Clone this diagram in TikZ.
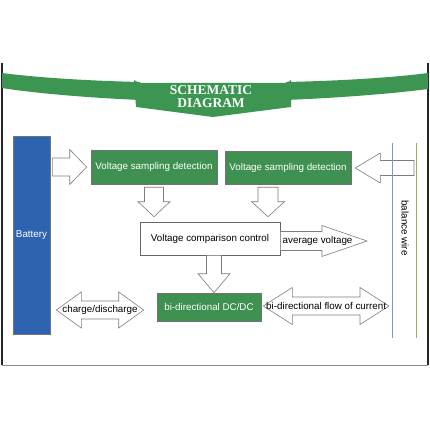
\documentclass[tikz,border=0pt]{standalone}
\usepackage{fontspec}
\setsansfont{Liberation Sans}
\newfontfamily\bannerfont{Liberation Serif}
\usetikzlibrary{calc, positioning}
\definecolor{boxgreen}{RGB}{62,145,80}
\definecolor{bannergreen}{RGB}{60,150,82}
\definecolor{batblue}{RGB}{46,99,176}
\definecolor{wireblue}{RGB}{110,155,210}
\definecolor{wiregreen}{RGB}{150,180,95}
\definecolor{edgegray}{RGB}{125,125,125}

% hollow block arrow: tail, tip, shaft half width, head half width, head length
\newcommand{\blockarrow}[5]{%
  \coordinate (hb) at ($(#2)!#5!(#1)$);
  \draw[hollow] ($(#1)!#3!90:(#2)$) -- ($(hb)!#3!-90:(#1)$) -- ($(hb)!#4!-90:(#1)$) -- (#2)
    -- ($(hb)!#4!90:(#1)$) -- ($(hb)!#3!90:(#1)$) -- ($(#1)!#3!-90:(#2)$) -- cycle;}
% hollow double arrow: tip, tip, shaft half width, head half width, head length
\newcommand{\dblarrow}[5]{%
  \coordinate (ha) at ($(#1)!#5!(#2)$);
  \coordinate (hb) at ($(#2)!#5!(#1)$);
  \draw[hollow] (#1) -- ($(ha)!#4!90:(#2)$) -- ($(ha)!#3!90:(#2)$) -- ($(hb)!#3!-90:(#1)$)
    -- ($(hb)!#4!-90:(#1)$) -- (#2) -- ($(hb)!#4!90:(#1)$) -- ($(hb)!#3!90:(#1)$)
    -- ($(ha)!#3!-90:(#2)$) -- ($(ha)!#4!-90:(#2)$) -- cycle;}

\begin{document}
\begin{tikzpicture}[x=1pt, y=-1pt,
        txt/.style={font=\sffamily\fontsize{9.8}{11}\selectfont},
        gbox/.style={txt, rectangle, draw=black!55, fill=boxgreen, text=white, inner sep=0pt, line width=0.6pt},
        wbox/.style={txt, rectangle, draw=black!60, fill=white, inner sep=0pt, line width=0.6pt},
        lbl/.style={txt, inner sep=0pt},
        hollow/.style={draw=edgegray, fill=white, line width=0.6pt, line join=miter}
    ]
        \useasboundingbox (0,0) rectangle (430,430);
        \fill[white] (0,0) rectangle (430,430);

        % frame
        \draw[black!85, line width=2.5pt] (2,63) -- (2,365);
        \draw[black!85, line width=2pt] (428,63) -- (428,365);
        \draw[black!45, line width=0.6pt] (2,365) -- (428,365);

        % banner
        \fill[bannergreen] (2,73) .. controls (40,78) and (95,81) .. (140,82) -- (140,100)
            .. controls (95,98) and (40,94) .. (2,88) -- cycle;
        \fill[bannergreen] (428,73) .. controls (390,78) and (335,81) .. (286,82) -- (286,100)
            .. controls (335,98) and (390,94) .. (428,89) -- cycle;
        \fill[bannergreen] (134,80) -- (139,83) -- (287,83) -- (291,80) -- (291,107)
            -- (213,117) -- (136,107) -- cycle;
        \node[text=white, align=center, inner sep=0pt, font=\bannerfont\bfseries\fontsize{13.5}{13}\selectfont]
            (title) at (211,97) {SCHEMATIC\\DIAGRAM};

        % blocks
        \node[gbox, fill=batblue, minimum width=37pt, minimum height=198pt] (bat) at (31.5,235) {Battery};
        \node[gbox, minimum width=126pt, minimum height=34pt] (vs1) at (154,167) {Voltage sampling detection};
        \node[gbox, minimum width=126pt, minimum height=33pt] (vs2) at (288,167.5) {Voltage sampling detection};
        \node[wbox, minimum width=140pt, minimum height=33pt] (comp) at (210,238.5) {Voltage comparison control};
        \node[gbox, minimum width=104pt, minimum height=28pt] (dcdc) at (209,307) {bi-directional DC/DC};

        % arrow ends
        \coordinate (a1s) at ($(bat.east |- vs1.west)+(2,0)$);
        \coordinate (a1e) at ($(vs1.west)+(-4,0)$);
        \coordinate (a2s) at (414,168);
        \coordinate (a2e) at ($(vs2.east)+(4,0.5)$);
        \coordinate (a3s) at ($(vs1.south)+(0,3)$);
        \coordinate (a3e) at ($(vs1.south |- comp.north)+(0,-5)$);
        \coordinate (a4s) at ($(vs2.south)+(-20,3)$);
        \coordinate (a4e) at ($(vs2.south |- comp.north)+(-20,-5)$);
        \coordinate (a5s) at ($(comp.south)+(4,0)$);
        \coordinate (a5e) at (a5s |- dcdc.north);
        \coordinate (a6s) at ($(comp.east)+(0,2.5)$);
        \coordinate (a6e) at (367,241);
        \coordinate (a7s) at ($(bat.east |- dcdc.west)+(6,3)$);
        \coordinate (a7e) at ($(dcdc.west)+(-13,3)$);
        \coordinate (a8s) at ($(dcdc.east)+(2,-1)$);
        \coordinate (a8e) at (389,306);

        % block arrows
        \blockarrow{a1s}{a1e}{9pt}{17.5pt}{17pt}
        \blockarrow{a2s}{a2e}{7.5pt}{15pt}{25pt}
        \blockarrow{a3s}{a3e}{9.5pt}{16pt}{15pt}
        \blockarrow{a4s}{a4e}{10pt}{16.5pt}{15pt}
        \blockarrow{a5s}{a5e}{7.5pt}{16pt}{19pt}
        \blockarrow{a6s}{a6e}{9.5pt}{15.5pt}{45pt}
        \dblarrow{a7s}{a7e}{9pt}{18pt}{25pt}
        \dblarrow{a8s}{a8e}{9pt}{18.5pt}{29pt}

        % arrow labels
        \node[lbl] (avg) at ($(a6s)!0.43!(a6e)$) {average voltage};
        \node[lbl] (chg) at ($(a7s)!0.5!(a7e)$) {charge/discharge};
        \node[lbl] (flow) at ($(a8s)!0.5!(a8e)$) {bi-directional flow of current};

        % balance wire
        \coordinate (bw1) at (392,143);
        \coordinate (bw2) at (416,143);
        \draw[wireblue, line width=1pt] (bw1) -- (392,338);
        \draw[wiregreen, line width=1pt] (bw2) -- (416,338);
        \node[lbl, rotate=-90] (bwire) at (405,228) {balance wire};
    \end{tikzpicture}
\end{document}
